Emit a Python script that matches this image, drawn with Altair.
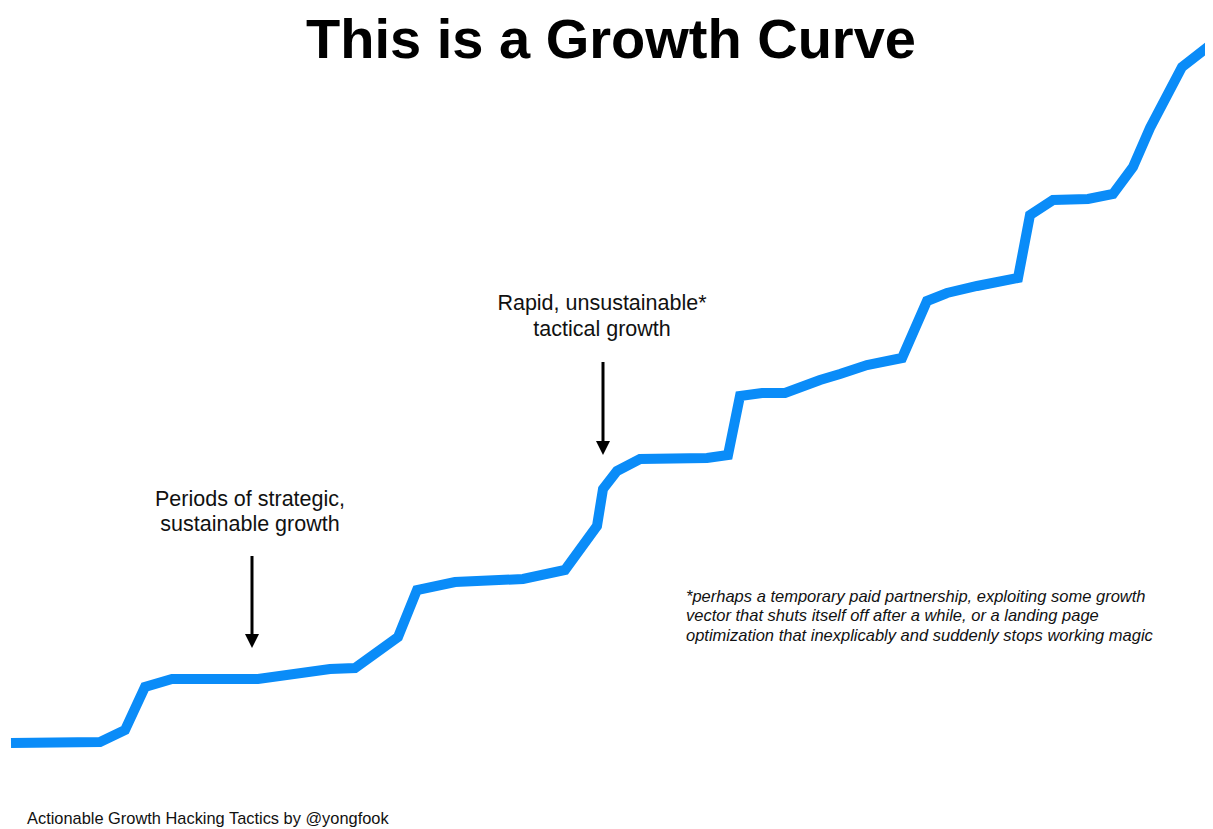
import altair as alt
import pandas as pd

# Growth curve (time index, growth level)
period = [0, 89, 114, 134, 161, 247, 319, 344, 387, 406, 444, 512, 554, 586,
          592, 606, 629, 696, 717, 729, 751, 774, 809, 829, 856, 891, 916, 936,
          966, 1007, 1019, 1042, 1077, 1102, 1122, 1139, 1171, 1202]
growth = [0, 1, 13, 56, 64, 64, 74, 75, 106, 153, 161, 164, 173, 217,
          254, 272, 284, 285, 288, 347, 350, 350, 363, 369, 378, 385, 442, 450,
          457, 465, 528, 543, 544, 549, 576, 615, 676, 700]

# Annotation labels (anchored in data coordinates)
label_text = ["Periods of strategic,", "sustainable growth",
              "Rapid, unsustainable*", "tactical growth"]
label_period = [239, 239, 591, 591]
label_growth = [237, 212, 433, 407]

arrow_period = [241, 592]
arrow_top = [187, 381]
arrow_tip = [95, 288]

note_text = ["*perhaps a temporary paid partnership, exploiting some growth",
             "vector that shuts itself off after a while, or a landing page",
             "optimization that inexplicably and suddenly stops working magic"]
note_period = [675, 675, 675]
note_growth = [141, 122, 102]

title_text = "This is a Growth Curve"
footer_text = "Actionable Growth Hacking Tactics by @yongfook"

BLUE = "#0a8cf8"
FONT = "Liberation Sans"

curve = pd.DataFrame({"period": period, "growth": growth})
labels = pd.DataFrame({"period": label_period, "growth": label_growth, "text": label_text})
arrows = pd.DataFrame({"period": arrow_period, "top": arrow_top, "tip": arrow_tip})
notes = pd.DataFrame({"period": note_period, "growth": note_growth, "text": note_text})

xs = alt.Scale(domain=[-3, 1194], nice=False, zero=False)
ys = alt.Scale(domain=[-86, 735], nice=False, zero=False)
X = lambda f: alt.X(f"{f}:Q", scale=xs, axis=None)
Y = lambda f: alt.Y(f"{f}:Q", scale=ys, axis=None)

line = alt.Chart(curve).mark_line(
    color=BLUE, strokeWidth=10, clip=True, strokeJoin="miter", strokeCap="butt"
).encode(x=X("period"), y=Y("growth"))

label_marks = alt.Chart(labels).mark_text(
    font=FONT, fontSize=21.5, color="#111", align="center", baseline="alphabetic"
).encode(x=X("period"), y=Y("growth"), text="text:N")

shafts = alt.Chart(arrows).mark_rule(color="#000", strokeWidth=3, y2Offset=-8).encode(
    x=X("period"), y=Y("top"), y2=alt.Y2("tip:Q")
)
heads = alt.Chart(arrows).mark_point(
    shape="M-1,-1L1,-1L0,1Z", filled=True, color="#000", size=196, opacity=1,
    strokeWidth=0, yOffset=-7
).encode(x=X("period"), y=Y("tip"))

note_marks = alt.Chart(notes).mark_text(
    font=FONT, fontSize=16.5, fontStyle="italic", color="#111",
    align="left", baseline="alphabetic"
).encode(x=X("period"), y=Y("growth"), text="text:N")

title = alt.Chart(pd.DataFrame({"t": [title_text]})).mark_text(
    font=FONT, fontSize=56, fontWeight="bold", color="#000",
    align="center", baseline="alphabetic"
).encode(x=alt.value(603), y=alt.value(50), text="t:N")

footer = alt.Chart(pd.DataFrame({"t": [footer_text]})).mark_text(
    font=FONT, fontSize=16.4, color="#111", align="left", baseline="alphabetic"
).encode(x=alt.value(19), y=alt.value(816), text="t:N")

chart = alt.layer(line, shafts, heads, label_marks, note_marks, title, footer).properties(
    width=1197, height=821,
    autosize=alt.AutoSizeParams(type="none"),
    padding={"left": 0, "right": 0, "top": 0, "bottom": 0},
).configure(background="white").configure_view(stroke=None, strokeWidth=0)

chart.save("out.html", embed_options={"renderer": "svg", "actions": False})
